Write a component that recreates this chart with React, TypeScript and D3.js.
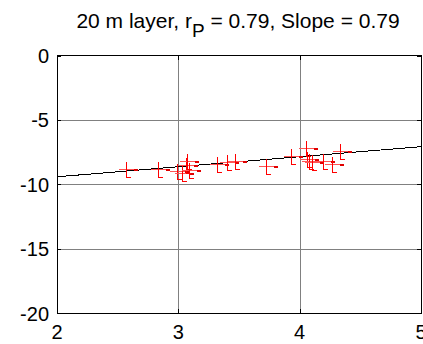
import React from "react";
import * as d3 from "d3";

const xTicks = [2, 3, 4, 5];
const yTicks = [0, -5, -10, -15, -20];
const pointX = [2.57, 2.83, 2.99, 3.03, 3.06, 3.07, 3.09, 3.32, 3.40, 3.47, 3.72, 3.93, 4.05, 4.06, 4.08, 4.10, 4.19, 4.27, 4.33];
const pointY = [-8.8, -8.8, -8.95, -9.1, -8.5, -8.2, -8.9, -8.4, -8.3, -8.2, -8.6, -7.8, -7.2, -8.0, -8.2, -8.3, -8.2, -8.4, -7.4];
const fitX = [2, 5];
const fitY = [-9.42, -7.08];

export default function App() {
  const W = 423, H = 344;
  const x = d3.scaleLinear().domain([2, 5]).range([57, 421]);
  const y = d3.scaleLinear().domain([-20, 0]).range([313, 55.5]);
  const line = d3.line<number>().x((_, i) => x(fitX[i])).y((d) => y(d));
  const font = "Liberation Sans, Arial, sans-serif";
  return (
    <svg width={W} height={H} style={{ position: "absolute", left: 0, top: 0, background: "#fff" }}>
      <rect x={0} y={0} width={W} height={H} fill="#fff" />
      {/* grid */}
      {xTicks.slice(1, -1).map((t) => (
        <line key={"gx" + t} x1={Math.round(x(t)) + 0.5} x2={Math.round(x(t)) + 0.5} y1={y(0)} y2={y(-20)} stroke="#808080" strokeWidth={1} />
      ))}
      {yTicks.slice(1, -1).map((t) => (
        <line key={"gy" + t} y1={Math.round(y(t)) + 0.5} y2={Math.round(y(t)) + 0.5} x1={x(2)} x2={x(5)} stroke="#808080" strokeWidth={1} />
      ))}
      {/* fit line */}
      <path d={line(fitY) || ""} fill="none" stroke="#000" strokeWidth={1} shapeRendering="crispEdges" />
      {/* markers */}
      {pointX.map((px, i) => {
        const cx = Math.round(x(px)) + 0.5;
        const cy = Math.round(y(pointY[i])) + 0.5;
        return (
          <g key={"p" + i} stroke="#ff0000" strokeWidth={1} shapeRendering="crispEdges">
            <line x1={cx - 8} x2={cx + 9} y1={cy} y2={cy} stroke="#ff5555" />
            <line x1={cx} x2={cx} y1={cy - 8} y2={cy + 8} />
            <line x1={cx} x2={cx + 4} y1={cy + 8} y2={cy + 8} />
            <line x1={cx + 7} x2={cx + 11} y1={cy} y2={cy} stroke="#e00000" strokeWidth={2} />
          </g>
        );
      })}
      {/* axes box */}
      <line x1={x(2)} x2={x(5)} y1={55.5} y2={55.5} stroke="#000" />
      <line x1={x(2)} x2={x(5)} y1={313.5} y2={313.5} stroke="#000" />
      <line x1={57.5} x2={57.5} y1={55} y2={314} stroke="#000" />
      <line x1={421.5} x2={421.5} y1={55} y2={314} stroke="#000" />
      {/* ticks */}
      {xTicks.map((t) => (
        <g key={"tx" + t}>
          <line x1={Math.round(x(t)) + 0.5} x2={Math.round(x(t)) + 0.5} y1={313} y2={309} stroke="#000" />
          <line x1={Math.round(x(t)) + 0.5} x2={Math.round(x(t)) + 0.5} y1={56} y2={60} stroke="#000" />
          <text x={x(t)} y={339} textAnchor="middle" fontFamily={font} fontSize={20} fill="#000">{t}</text>
        </g>
      ))}
      {yTicks.map((t) => (
        <g key={"ty" + t}>
          <line x1={57} x2={61} y1={Math.round(y(t)) + 0.5} y2={Math.round(y(t)) + 0.5} stroke="#000" />
          <line x1={417} x2={421} y1={Math.round(y(t)) + 0.5} y2={Math.round(y(t)) + 0.5} stroke="#000" />
          <text x={49} y={y(t) + 7.5} textAnchor="end" fontFamily={font} fontSize={20} fill="#000">{t === 0 ? "0" : "-" + Math.abs(t)}</text>
        </g>
      ))}
      {/* title */}
      <text x={238} y={28} textAnchor="middle" fontFamily={font} fontSize={21} fill="#000">
        20 m layer, r<tspan dy={9} fontSize={19}>P</tspan><tspan dy={-9}> = 0.79, Slope = 0.79</tspan>
      </text>
    </svg>
  );
}
